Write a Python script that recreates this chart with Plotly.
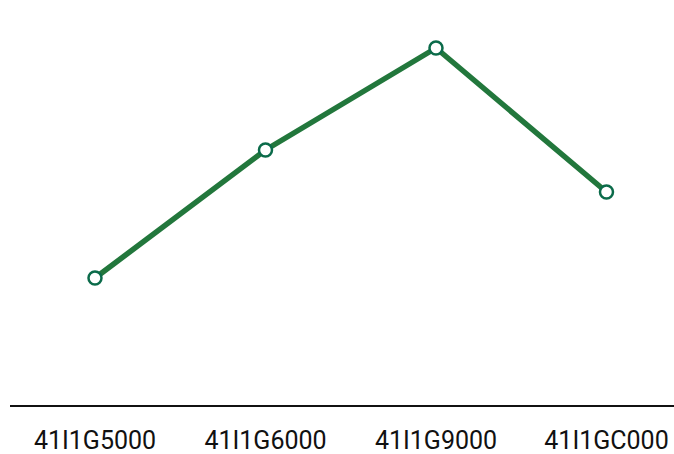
import plotly.graph_objects as go

categories = ["41I1G5000", "41I1G6000", "41I1G9000", "41I1GC000"]
values = [127, 255, 357, 213]

fig = go.Figure()
fig.add_trace(go.Scatter(
    x=categories, y=values, mode="lines+markers",
    line=dict(color="#22773c", width=5.5),
    marker=dict(size=13, color="white", line=dict(color="#0b6b4a", width=2.5)),
    cliponaxis=False,
))
fig.update_layout(
    width=674, height=454,
    margin=dict(l=10, r=0, t=8, b=49),
    paper_bgcolor="white", plot_bgcolor="white",
    showlegend=False,
    font=dict(family="Roboto", size=25, color="#111111"),
)
fig.update_xaxes(
    type="category", range=[-0.4985, 3.396], automargin=False,
    showline=True, linecolor="#111111", linewidth=2,
    showgrid=False, zeroline=False,
    ticks="outside", ticklen=12, tickcolor="rgba(0,0,0,0)",
)
fig.update_yaxes(range=[0, 397], visible=False, showgrid=False, zeroline=False,
                 automargin=False)
fig.write_html(
    "out.html",
    config={"displayModeBar": False},
    post_script="document.body.style.margin='0';"
                "document.documentElement.style.overflow='hidden';",
)
